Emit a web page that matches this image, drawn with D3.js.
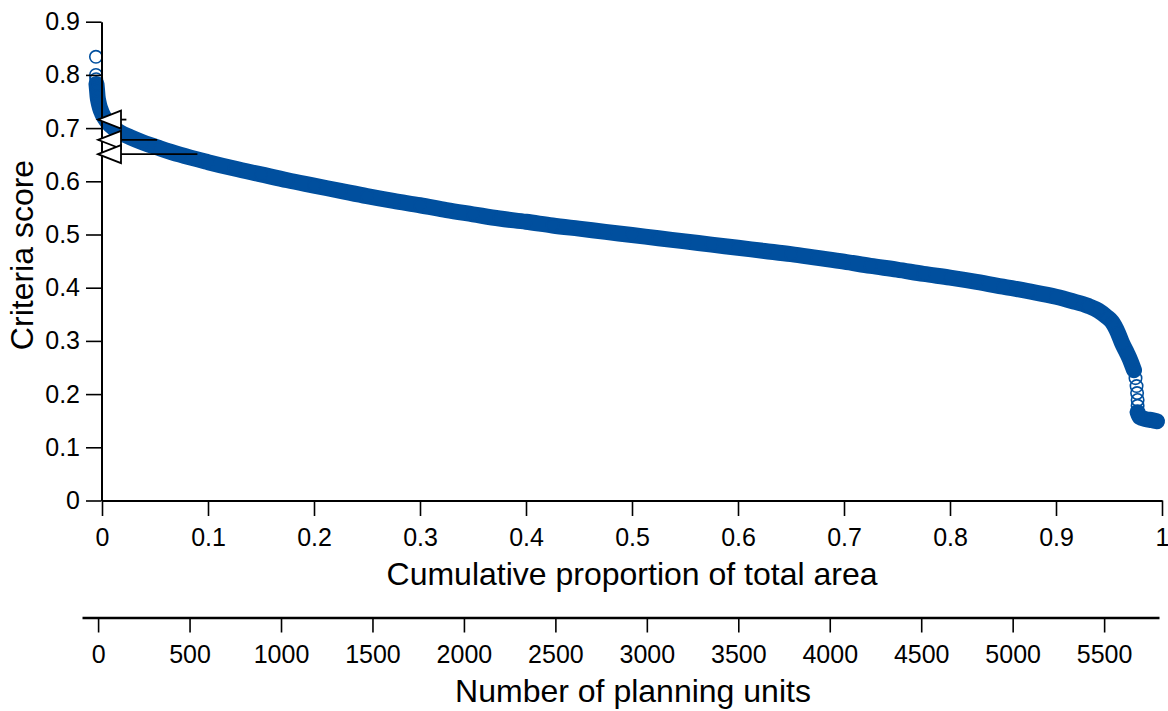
<!DOCTYPE html>
<html>
<head>
<meta charset="utf-8">
<script src="https://cdn.jsdelivr.net/npm/d3@7"></script>
<style>
  html, body { margin: 0; padding: 0; background: #fff; }
  svg { display: block; font-family: "Liberation Sans", Arial, sans-serif; }
  .axis path, .axis line { stroke: #000; }
  .axis text { fill: #000; font-size: 25px; font-family: "Liberation Sans", Arial, sans-serif; }
</style>
</head>
<body>
<svg id="chart" width="1168" height="711"></svg>
<script>
// Criteria score of planning units ranked from best to worst,
// against the cumulative proportion of the total area they cover.

// Isolated high-scoring units at the very start of the ranking
const headProp  = [-0.0057, -0.0057, -0.0055];
const headScore = [0.834, 0.800, 0.792];

// Main, densely packed run of ranked units
const bodyProp = [
  -0.0052, -0.0047, -0.0042, -0.0033, -0.0019, 0.0000, 0.0024, 0.0057, 0.0104, 0.0170,
  0.0264, 0.0387, 0.0547, 0.0736, 0.100, 0.125, 0.150, 0.175, 0.200, 0.225,
  0.250, 0.275, 0.300, 0.325, 0.350, 0.375, 0.400, 0.425, 0.450, 0.475,
  0.500, 0.525, 0.550, 0.575, 0.600, 0.625, 0.650, 0.675, 0.700, 0.725,
  0.750, 0.775, 0.800, 0.825, 0.850, 0.875, 0.900, 0.915, 0.930, 0.940,
  0.948, 0.9528, 0.9585, 0.9623, 0.9670, 0.9708, 0.9736
];
const bodyScore = [
  0.783, 0.772, 0.760, 0.749, 0.738, 0.728, 0.719, 0.710, 0.701, 0.692,
  0.683, 0.673, 0.662, 0.650, 0.636, 0.624, 0.613, 0.602, 0.592, 0.582,
  0.572, 0.563, 0.555, 0.546, 0.538, 0.530, 0.524, 0.517, 0.511, 0.505,
  0.499, 0.493, 0.487, 0.481, 0.475, 0.469, 0.463, 0.456, 0.449, 0.441,
  0.434, 0.426, 0.419, 0.411, 0.402, 0.393, 0.383, 0.375, 0.366, 0.357,
  0.345, 0.336, 0.315, 0.296, 0.277, 0.260, 0.245
];

// Sparse units along the steep drop near the end
const dropProp  = [0.9750, 0.9760, 0.9765, 0.9770, 0.9770];
const dropScore = [0.230, 0.215, 0.202, 0.189, 0.178];

// Lowest-scoring cluster at the end of the ranking
const tailProp  = [0.9770, 0.9790, 0.9845, 0.9906, 0.9953];
const tailScore = [0.166, 0.157, 0.153, 0.151, 0.149];

// Reference markers: score level and area extent
const markerScore  = [0.716, 0.678, 0.651];
const markerExtent = [0.023, 0.052, 0.090];

// Tick values
const propTicks  = [0, 0.1, 0.2, 0.3, 0.4, 0.5, 0.6, 0.7, 0.8, 0.9, 1];
const scoreTicks = [0, 0.1, 0.2, 0.3, 0.4, 0.5, 0.6, 0.7, 0.8, 0.9];
const unitTicks  = [0, 500, 1000, 1500, 2000, 2500, 3000, 3500, 4000, 4500, 5000, 5500];

const BLUE = "#004f9e";
const svg = d3.select("#chart");

const x = d3.scaleLinear().domain([0, 1]).range([102, 1162]);
const y = d3.scaleLinear().domain([0, 0.9]).range([500.5, 21.7]);
const units = d3.scaleLinear().domain([-88, 5800]).range([82, 1159]);

const zip = (a, b) => a.map((v, i) => [v, b[i]]);

// Dense runs drawn as a solid band of overlapping markers
const band = d3.line().x(d => x(d[0])).y(d => y(d[1])).curve(d3.curveMonotoneX);
const plot = svg.append("g");
[zip(bodyProp, bodyScore), zip(tailProp, tailScore)].forEach(run => {
  plot.append("path")
    .attr("d", band(run))
    .attr("fill", "none")
    .attr("stroke", BLUE)
    .attr("stroke-width", 16)
    .attr("stroke-linecap", "round")
    .attr("stroke-linejoin", "round");
});

// Individual hollow circle markers
const allPts = [].concat(
  zip(headProp, headScore), zip(bodyProp, bodyScore),
  zip(dropProp, dropScore), zip(tailProp, tailScore)
);
plot.selectAll("circle.pt")
  .data(allPts)
  .join("circle")
  .attr("class", "pt")
  .attr("cx", d => x(d[0]))
  .attr("cy", d => y(d[1]))
  .attr("r", 6.2)
  .attr("fill", "none")
  .attr("stroke", BLUE)
  .attr("stroke-width", 1.6);

// Axes
const yAxis = svg.append("g")
  .attr("class", "axis")
  .attr("transform", "translate(101.5,0)")
  .call(d3.axisLeft(y).tickValues(scoreTicks).tickFormat(d3.format("~g"))
        .tickSize(15.5).tickSizeOuter(0).tickPadding(6));
yAxis.select(".domain").attr("stroke-width", 2);
yAxis.selectAll(".tick line").attr("stroke-width", 1.6);

const xAxis = svg.append("g")
  .attr("class", "axis")
  .attr("transform", "translate(0,500.5)")
  .call(d3.axisBottom(x).tickValues(propTicks).tickFormat(d3.format("~g"))
        .tickSize(15.5).tickSizeOuter(0).tickPadding(12));
xAxis.select(".domain").attr("stroke-width", 2);
xAxis.selectAll(".tick line").attr("stroke-width", 1.6);

const uAxis = svg.append("g")
  .attr("class", "axis")
  .attr("transform", "translate(0,617.5)")
  .call(d3.axisBottom(units).tickValues(unitTicks).tickFormat(d3.format("d"))
        .tickSize(15).tickSizeOuter(0).tickPadding(13));
uAxis.select(".domain").attr("stroke-width", 2.5);
uAxis.selectAll(".tick line").attr("stroke-width", 1.6);

// Reference markers: horizontal extent lines with left-pointing triangles
const markers = svg.append("g");
markerScore.forEach((s, i) => {
  const tip = x(0) - 4;
  const yy = y(s);
  markers.append("line")
    .attr("x1", tip).attr("x2", x(markerExtent[i]))
    .attr("y1", yy).attr("y2", yy)
    .attr("stroke", "#000").attr("stroke-width", 1.8);
  markers.append("path")
    .attr("d", `M${tip},${yy} L${tip + 23},${yy - 9} L${tip + 23},${yy + 9} Z`)
    .attr("fill", "#fff")
    .attr("stroke", "#000")
    .attr("stroke-width", 1.8)
    .attr("stroke-linejoin", "miter");
});

// Axis titles
svg.append("text")
  .attr("x", 632).attr("y", 585)
  .attr("text-anchor", "middle")
  .attr("font-size", 32)
  .text("Cumulative proportion of total area");

svg.append("text")
  .attr("x", 633).attr("y", 702)
  .attr("text-anchor", "middle")
  .attr("font-size", 32)
  .text("Number of planning units");

svg.append("text")
  .attr("transform", "translate(33,255) rotate(-90)")
  .attr("text-anchor", "middle")
  .attr("font-size", 32)
  .text("Criteria score");
</script>
</body>
</html>
